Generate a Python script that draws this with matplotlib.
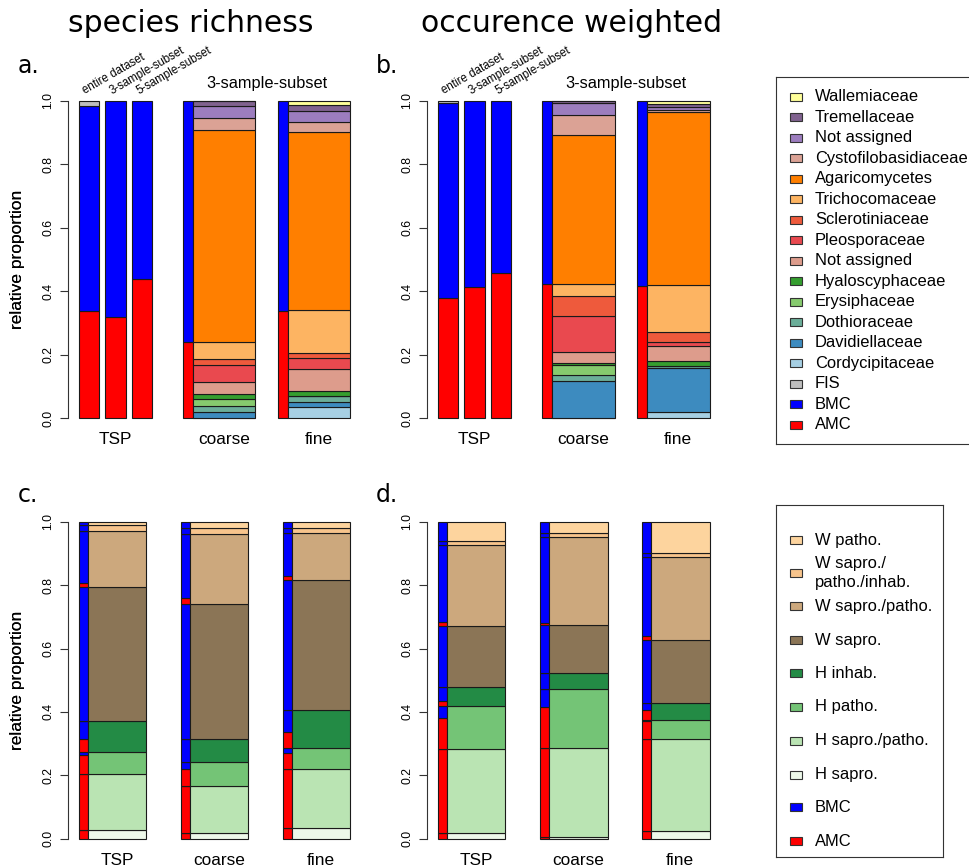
import numpy as np
import matplotlib
matplotlib.use('Agg')
import matplotlib.pyplot as plt
from matplotlib.patches import Rectangle

plt.rcParams['font.family'] = ['Liberation Sans', 'DejaVu Sans']

# ---------------- a./b. : family composition (legend order, top -> bottom)
families = ['Wallemiaceae', 'Tremellaceae', 'Not assigned', 'Cystofilobasidiaceae',
            'Agaricomycetes', 'Trichocomaceae', 'Sclerotiniaceae', 'Pleosporaceae',
            'Not assigned', 'Hyaloscyphaceae', 'Erysiphaceae', 'Dothioraceae',
            'Davidiellaceae', 'Cordycipitaceae']
family_colors = ['#FFFF99', '#80628F', '#9C7DBE', '#DBA295',
                 '#FF7F00', '#FDB462', '#EE5A3C', '#E9494F',
                 '#DD9C8C', '#359E2F', '#86CA6E', '#6BAE99',
                 '#3D8BBF', '#A6CFE3']

rich_coarse = [0.0, 0.017, 0.037, 0.036, 0.670, 0.052, 0.019, 0.056,
               0.037, 0.016, 0.021, 0.018, 0.020, 0.0]
rich_fine = [0.0135, 0.019, 0.033, 0.034, 0.561, 0.133, 0.018, 0.035,
             0.068, 0.016, 0.0, 0.017, 0.016, 0.036]
occ_coarse = [0.0, 0.007, 0.037, 0.063, 0.471, 0.036, 0.066, 0.113,
              0.034, 0.006, 0.032, 0.017, 0.118, 0.0]
occ_fine = [0.011, 0.008, 0.010, 0.008, 0.543, 0.150, 0.032, 0.012,
            0.046, 0.016, 0.0, 0.005, 0.141, 0.018]

tsp_labels = ['entire dataset', '3-sample-subset', '5-sample-subset']
rich_tsp_amc = [0.337, 0.317, 0.437]
rich_tsp_fis = [0.016, 0.0, 0.0]
occ_tsp_amc = [0.377, 0.412, 0.456]
occ_tsp_fis = [0.006, 0.0, 0.0]
rich_sub_amc = [0.2405, 0.338]   # coarse, fine
occ_sub_amc = [0.423, 0.417]

# ---------------- c./d. : lifestyle composition (legend order, top -> bottom)
lifestyles = ['W patho.', 'W sapro./\npatho./inhab.', 'W sapro./patho.', 'W sapro.',
              'H inhab.', 'H patho.', 'H sapro./patho.', 'H sapro.']
life_colors = ['#FDD49E', '#F7C48C', '#CCA87D', '#8B7556',
               '#238B45', '#74C476', '#BAE4B3', '#EDF8E9']
groups = ['TSP', 'coarse', 'fine']

rich_life_tsp = [0.010, 0.018, 0.177, 0.425, 0.096, 0.069, 0.179, 0.026]
rich_life_coarse = [0.020, 0.019, 0.220, 0.426, 0.074, 0.075, 0.148, 0.018]
rich_life_fine = [0.020, 0.016, 0.149, 0.408, 0.120, 0.068, 0.185, 0.034]
occ_life_tsp = [0.060, 0.015, 0.253, 0.194, 0.0605, 0.1355, 0.265, 0.017]
occ_life_coarse = [0.037, 0.012, 0.278, 0.150, 0.052, 0.184, 0.283, 0.004]
occ_life_fine = [0.099, 0.012, 0.262, 0.198, 0.055, 0.059, 0.292, 0.023]

# share of AMC inside each lifestyle category
rich_amc_tsp = [0, 0, 0.07, 0, 0.43, 0.84, 1, 1]
rich_amc_coarse = [0, 0, 0.086, 0, 0, 0.73, 1, 1]
rich_amc_fine = [0, 0, 0.10, 0, 0.41, 0.77, 1, 1]
occ_amc_tsp = [0, 0, 0.04, 0, 0.30, 0.74, 1, 1]
occ_amc_coarse = [0, 0, 0.027, 0, 0, 0.70, 1, 1]
occ_amc_fine = [0, 0, 0.052, 0, 0.60, 0.93, 1, 1]

AMC, BMC, FIS = '#FF0000', '#0000FF', '#BEBEBE'
EDGE = '#1a1a1a'
W, H = 970, 868

fig = plt.figure(figsize=(W / 100, H / 100), dpi=100)


def make_axes(left, top, bottom, width=292):
    ax = fig.add_axes([left / W, 1 - bottom / H, width / W, (bottom - top) / H])
    ax.set_xlim(0, width)
    ax.set_ylim(0, 1)
    for s in ['top', 'right', 'bottom']:
        ax.spines[s].set_visible(False)
    ax.spines['left'].set_color('#333333')
    ax.set_xticks([])
    ticks = np.arange(0, 1.01, 0.2)
    ax.set_yticks(ticks)
    ax.set_yticklabels(['%.1f' % t for t in ticks], rotation=90, va='center', fontsize=8.8)
    ax.tick_params(axis='y', length=6, pad=4, color='#333333')
    ax.patch.set_alpha(0)
    fig.text(18 / W, 1 - (top + bottom) / 2 / H, 'relative proportion', rotation=90,
             ha='center', va='center', fontsize=12.5)
    return ax


def seg(ax, x, w, h, b, c):
    ax.bar(x, h, w, bottom=b, align='edge', color=c, edgecolor=EDGE, lw=0.8, clip_on=False)


def stack(ax, x, w, values, colors):
    b = 0
    for v, c in zip(values[::-1], colors[::-1]):
        seg(ax, x, w, v, b, c)
        b += v


def panel_ab(ax, tsp_amc, tsp_fis, sub_amc, coarse, fine):
    tsp_x = [11, 37.5, 64]
    for x, a, f, lab in zip(tsp_x, tsp_amc, tsp_fis, tsp_labels):
        seg(ax, x, 20.5, a, 0, AMC)
        seg(ax, x, 20.5, 1 - a - f, a, BMC)
        if f > 0:
            seg(ax, x, 20.5, f, 1 - f, FIS)
        ax.text(x + 8, 1.012, lab, rotation=30, rotation_mode='anchor',
                ha='left', va='bottom', fontsize=8.3)
    for xn, xw, a, vals in zip([115, 210], [125, 220], sub_amc, [coarse, fine]):
        seg(ax, xn, 10, a, 0, AMC)
        seg(ax, xn, 10, 1 - a, a, BMC)
        stack(ax, xw, 62.5, vals, family_colors)
    ax.text(198.5, 1.054, '3-sample-subset', ha='center', va='center', fontsize=11.8)
    for x, g in zip([47.75, 156.25, 251.25], groups):
        ax.text(x, -0.069, g, ha='center', va='center', fontsize=12.4)


def panel_cd(ax, life_sets, amc_sets):
    for xn, xw, vals, amc, g in zip([11, 113, 215], [20, 122, 224], life_sets, amc_sets, groups):
        b = 0
        for v, s in zip(vals[::-1], amc[::-1]):
            seg(ax, xn, 9, v * s, b, AMC)
            seg(ax, xn, 9, v * (1 - s), b + v * s, BMC)
            b += v
        stack(ax, xw, 58.5, vals, life_colors)
        ax.text(xw + 29.25, -0.07, g, ha='center', va='center', fontsize=12.4)


ax_a = make_axes(68, 100.7, 418)
panel_ab(ax_a, rich_tsp_amc, rich_tsp_fis, rich_sub_amc, rich_coarse, rich_fine)
ax_b = make_axes(427, 100.7, 418)
panel_ab(ax_b, occ_tsp_amc, occ_tsp_fis, occ_sub_amc, occ_coarse, occ_fine)
ax_c = make_axes(68, 521.7, 838.7)
panel_cd(ax_c, [rich_life_tsp, rich_life_coarse, rich_life_fine],
         [rich_amc_tsp, rich_amc_coarse, rich_amc_fine])
ax_d = make_axes(427, 521.7, 838.7)
panel_cd(ax_d, [occ_life_tsp, occ_life_coarse, occ_life_fine],
         [occ_amc_tsp, occ_amc_coarse, occ_amc_fine])

# titles and panel letters
for x, t in [(191, 'species richness'), (572, 'occurence weighted')]:
    fig.text(x / W, 1 - 32 / H, t, ha='center', va='baseline', fontsize=21.5,
             family='DejaVu Sans')
for x, y, t in [(18, 73, 'a.'), (376, 73, 'b.'), (18, 502, 'c.'), (376, 502, 'd.')]:
    fig.text(x / W, 1 - y / H, t, ha='left', va='baseline', fontsize=17, family='DejaVu Sans')


# legends drawn in their own boxes
def legend_box(left, top, bottom, right, labels, colors, ys):
    lg = fig.add_axes([left / W, 1 - bottom / H, (right - left) / W, (bottom - top) / H])
    lg.set_xlim(0, right - left)
    lg.set_ylim(bottom - top, 0)
    lg.set_xticks([])
    lg.set_yticks([])
    for s in lg.spines.values():
        s.set_color('#333333')
    for lab, c, y in zip(labels, colors, ys):
        lg.add_patch(Rectangle((14, y - 4 - top), 12, 8, facecolor=c, edgecolor='#333333', lw=0.8))
        lg.text(39, y - top, lab, ha='left', va='center', fontsize=11.9, linespacing=1.3)


leg1_labels = families + ['FIS', 'BMC', 'AMC']
leg1_colors = family_colors + [FIS, BMC, AMC]
legend_box(776, 77, 444, 990, leg1_labels, leg1_colors,
           [96.7 + 20.5 * i for i in range(len(leg1_labels))])
leg2_labels = lifestyles + ['BMC', 'AMC']
leg2_colors = life_colors + [BMC, AMC]
legend_box(776, 505, 857, 943, leg2_labels, leg2_colors,
           [540, 573, 606, 640, 673, 707, 741, 775, 807, 841])

plt.savefig('out.png', dpi=100)
